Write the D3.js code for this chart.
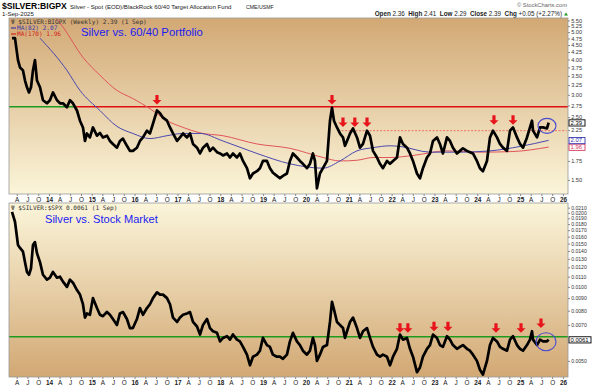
<!DOCTYPE html>
<html><head><meta charset="utf-8">
<script src="https://cdn.jsdelivr.net/npm/d3@7"></script>
<style>body{margin:0;background:#fff}svg{display:block;font-family:"Liberation Sans",Arial,sans-serif}</style>
</head><body>
<svg id="c" width="600" height="390"></svg>
<script>
// ---------- DATA (decimal years, weekly closes) ----------
const weeks = [2013.136,2013.206,2013.276,2013.323,2013.393,2013.440,2013.486,2013.533,2013.580,2013.626,
2013.673,2013.720,2013.790,2013.860,2013.953,2014.023,2014.093,2014.187,2014.257,2014.327,
2014.420,2014.490,2014.560,2014.654,2014.724,2014.794,2014.841,2014.887,2014.957,2015.027,
2015.121,2015.191,2015.261,2015.354,2015.424,2015.494,2015.588,2015.658,2015.728,2015.821,
2015.891,2015.961,2016.055,2016.125,2016.195,2016.288,2016.358,2016.428,2016.522,2016.592,
2016.662,2016.755,2016.825,2016.895,2016.989,2017.059,2017.129,2017.222,2017.292,2017.362,
2017.456,2017.526,2017.596,2017.689,2017.759,2017.829,2017.923,2017.993,2018.063,2018.156,
2018.226,2018.296,2018.389,2018.459,2018.530,2018.623,2018.693,2018.763,2018.856,2018.926,
2018.996,2019.090,2019.160,2019.230,2019.323,2019.393,2019.463,2019.557,2019.627,2019.697,
2019.790,2019.860,2019.930,2020.024,2020.094,2020.164,2020.211,2020.257,2020.327,2020.397,
2020.491,2020.561,2020.608,2020.654,2020.724,2020.794,2020.864,2020.911,2020.958,2021.028,
2021.098,2021.191,2021.261,2021.331,2021.425,2021.495,2021.565,2021.658,2021.728,2021.798,
2021.892,2021.962,2022.032,2022.125,2022.195,2022.265,2022.359,2022.429,2022.499,2022.592,
2022.662,2022.732,2022.826,2022.896,2022.966,2023.059,2023.129,2023.199,2023.293,2023.363,
2023.433,2023.526,2023.596,2023.666,2023.760,2023.830,2023.900,2023.993,2024.063,2024.133,
2024.227,2024.297,2024.367,2024.460,2024.530,2024.600,2024.694,2024.764,2024.834,2024.927,
2024.997,2025.067,2025.160,2025.230,2025.277,2025.301,2025.394,2025.464,2025.534,2025.627,
2025.666];

const silverBigpx = [4.76,4.76,3.98,3.75,3.66,3.37,3.19,3.06,3.19,3.66,
3.98,3.37,3.19,2.87,2.80,2.87,3.06,2.87,2.80,2.80,
2.71,2.87,2.80,2.64,2.43,2.30,2.06,2.19,2.12,2.30,
2.15,2.20,2.12,2.15,2.06,2.01,1.95,2.06,2.10,1.98,
1.90,1.90,1.95,2.06,2.12,2.24,2.19,2.37,2.64,2.58,
2.49,2.43,2.30,2.19,2.06,2.12,2.19,2.12,2.19,2.01,
1.95,1.86,1.95,2.01,1.90,1.95,1.88,1.86,1.83,1.86,
1.80,1.86,1.80,1.86,1.75,1.65,1.52,1.58,1.61,1.65,
1.75,1.75,1.65,1.59,1.55,1.52,1.55,1.58,1.75,1.86,
1.80,1.75,1.71,1.65,1.71,1.86,1.75,1.40,1.58,1.65,
1.75,2.43,2.70,2.43,2.30,2.19,2.12,1.98,2.06,2.19,
2.28,2.12,1.95,2.01,2.24,2.15,1.90,1.80,1.71,1.65,
1.75,1.71,1.75,1.80,2.12,2.01,1.95,1.86,1.75,1.58,
1.52,1.65,1.80,1.86,2.06,2.12,2.01,1.86,2.12,2.06,
1.95,1.86,1.90,1.94,1.90,1.88,1.86,1.75,1.65,1.61,
1.75,2.12,2.24,2.12,2.01,1.95,1.90,2.24,2.30,2.12,
2.01,1.95,2.12,2.30,2.43,2.24,2.12,2.30,2.30,2.28,
2.39];

const silverSpx = [.0202,.0184,.0148,.0144,.0139,.0126,.0115,.0112,.0119,.0148,
.0152,.0137,.0126,.0112,.0107,.0109,.0115,.0109,.0110,.0105,
.0100,.0107,.0104,.0097,.0093,.0085,.0075,.0078,.0077,.0090,
.0082,.0077,.0076,.0079,.0077,.0074,.0070,.0078,.0079,.0074,
.0068,.0068,.0074,.0082,.0077,.0082,.0085,.0090,.0095,.0093,
.0093,.0090,.0085,.0075,.0072,.0075,.0077,.0078,.0079,.0072,
.0069,.0064,.0070,.0074,.0068,.0066,.0065,.0060,.0062,.0063,
.0061,.0064,.0061,.0060,.0057,.0053,.0048,.0052,.0053,.0055,
.0062,.0058,.0057,.0053,.0052,.0052,.0051,.0053,.0060,.0065,
.0060,.0058,.0055,.0053,.0055,.0062,.0058,.0050,.0053,.0057,
.0058,.0072,.0087,.0081,.0072,.0070,.0068,.0062,.0066,.0072,
.0075,.0068,.0062,.0066,.0068,.0062,.0057,.0053,.0052,.0053,
.0052,.0048,.0052,.0056,.0064,.0061,.0062,.0056,.0052,.0045,
.0047,.0052,.0056,.0058,.0064,.0062,.0058,.0057,.0063,.0061,
.0058,.0056,.0057,.0058,.0056,.0055,.0053,.0050,.0046,.0044,
.0050,.0058,.0062,.0060,.0057,.0056,.0055,.0061,.0063,.0058,
.0056,.0055,.0058,.0061,.0066,.0061,.0058,.0061,.0060,.0060,
.0061];

const ma82Weeks  = [2013.79,2014.42,2014.724,2015.19,2015.588,2015.96,2016.358,2016.755,2017.13,2017.525,2018.06,2018.856,2019.627,2020.4,2020.794,2021.19,2021.565,2021.96,2022.195,2022.9,2023.6,2024.3,2025.0,2025.666];
const ma82Values = [4.76,3.66,3.11,2.64,2.32,2.19,2.10,2.15,2.19,2.19,2.06,1.86,1.71,1.65,1.75,1.90,1.95,1.98,1.97,1.88,1.88,1.90,1.97,2.07];
const ma170Weeks  = [2013.9,2014.14,2014.327,2014.794,2015.19,2015.588,2015.96,2016.358,2016.755,2017.13,2017.525,2018.06,2018.856,2019.627,2020.4,2020.794,2021.19,2021.565,2021.96,2022.5,2023.29,2024.063,2024.833,2025.666];
const ma170Values = [6.1,5.65,5.21,4.07,3.52,3.11,2.91,2.68,2.43,2.30,2.20,2.15,2.01,1.94,1.80,1.75,1.76,1.80,1.80,1.83,1.90,1.88,1.89,1.96];

const topTicks = [5.50,5.25,5.00,4.75,4.50,4.25,4.00,3.75,3.50,3.25,3.00,2.75,2.50,2.25,1.75,1.50];
const bottomTicks = [0.0210,0.0200,0.0190,0.0180,0.0170,0.0160,0.0150,0.0140,0.0130,0.0120,0.0110,0.0100,0.0090,0.0080,0.0070,0.0050];

const topArrowWeeks = [2016.522,2020.608,2020.864,2021.14,2021.425,2024.39,2024.834];
const topArrowTips  = [2.77,2.77,2.31,2.31,2.31,2.35,2.35];
const bottomArrowWeeks = [2022.195,2022.38,2022.99,2023.316,2024.437,2025.02,2025.487];
const bottomArrowTips  = [0.0065,0.0065,0.0066,0.0066,0.0065,0.0065,0.0068];

const resistanceLevel = 2.72, resistanceStart = 2014.6;
const dashedLevel = 2.24, dashedStart = 2020.75, dashedEnd = 2026.08;
const bottomSupport = 0.00627;
const topCircle = [2025.627, 2.33], bottomCircle = [2025.604, 0.00598];
const lastValues = {close:"2.39", ma82:"2.07", ma170:"1.96", spx:"0.0061"};
const lastNums = {close:2.39, ma82:2.07, ma170:1.96, spx:0.0061};

// ---------- helpers ----------
function dec(t){const y=Math.floor(t);const s=Date.UTC(y,0,1),e=Date.UTC(y+1,0,1);return new Date(s+(t-y)*(e-s));}

const svg = d3.select("#c");
const L = 9, R = 568;
const topP = {y0:18, y1:194}, botP = {y0:203, y1:377};

const x = d3.scaleUtc().domain([dec(2013.066), dec(2026.118)]).range([L, R]);
const yT = d3.scaleLog().domain([1.337, 5.61]).range([topP.y1, topP.y0]);
const yB = d3.scaleLog().domain([0.00430, 0.02193]).range([botP.y1, botP.y0]);

const defs = svg.append("defs");
const g1 = defs.append("linearGradient").attr("id","gTop").attr("x1",0).attr("y1",0).attr("x2",0).attr("y2",1);
g1.append("stop").attr("offset","0%").attr("stop-color","#d2a874");
g1.append("stop").attr("offset","100%").attr("stop-color","#fbf5da");
const g2 = defs.append("linearGradient").attr("id","gBot").attr("x1",0).attr("y1",0).attr("x2",0).attr("y2",1);
g2.append("stop").attr("offset","0%").attr("stop-color","#fbf5da");
g2.append("stop").attr("offset","100%").attr("stop-color","#d2a874");
defs.append("clipPath").attr("id","cTop").append("rect").attr("x",L).attr("y",topP.y0).attr("width",R-L).attr("height",topP.y1-topP.y0);
defs.append("clipPath").attr("id","cBot").append("rect").attr("x",L).attr("y",botP.y0).attr("width",R-L).attr("height",botP.y1-botP.y0);

svg.append("rect").attr("x",L).attr("y",topP.y0).attr("width",R-L).attr("height",topP.y1-topP.y0).attr("fill","url(#gTop)");
svg.append("rect").attr("x",L).attr("y",botP.y0).attr("width",R-L).attr("height",botP.y1-botP.y0).attr("fill","url(#gBot)");

// ---------- header ----------
svg.append("text").attr("x",2).attr("y",8.5).attr("font-size",8.6).attr("font-weight","bold").text("$SILVER:BIGPX");
svg.append("text").attr("x",70).attr("y",8.5).attr("font-size",6.1).attr("fill","#222").text("Silver - Spot (EOD)/BlackRock 60/40 Target Allocation Fund");
svg.append("text").attr("x",246).attr("y",8.5).attr("font-size",5.2).attr("fill","#222").text("CME/USMF");
svg.append("text").attr("x",2).attr("y",15.5).attr("font-size",6.1).attr("fill","#222").text("1-Sep-2025");
svg.append("text").attr("x",567).attr("y",6.5).attr("font-size",5.8).attr("fill","#666").attr("text-anchor","end").text("© StockCharts.com");
const ohlc = svg.append("text").attr("x",562).attr("y",16).attr("font-size",6.3).attr("text-anchor","end").attr("fill","#222");
[["Open ",1],["2.36  ",0],["High ",1],["2.41  ",0],["Low ",1],["2.29  ",0],["Close ",1],["2.39  ",0],["Chg ",1],["+0.05 (+2.27%)",0]]
 .forEach(([t,b])=>ohlc.append("tspan").attr("font-weight",b?"bold":"normal").attr("xml:space","preserve").text(t));
svg.append("path").attr("d","M564,15.5 l2,-3 l2,3 z").attr("fill","#1a9a1a");

// ---------- panel content ----------
const pt = svg.append("g").attr("clip-path","url(#cTop)");
const pb = svg.append("g").attr("clip-path","url(#cBot)");

// reference lines top
pt.append("line").attr("x1",L).attr("x2",x(dec(resistanceStart))).attr("y1",yT(resistanceLevel)).attr("y2",yT(resistanceLevel)).attr("stroke","#1e9a1e").attr("stroke-width",1.5);
pt.append("line").attr("x1",x(dec(resistanceStart))).attr("x2",R).attr("y1",yT(resistanceLevel)).attr("y2",yT(resistanceLevel)).attr("stroke","#e01010").attr("stroke-width",1.5);
pt.append("line").attr("x1",x(dec(dashedStart))).attr("x2",x(dec(dashedEnd))).attr("y1",yT(dashedLevel)).attr("y2",yT(dashedLevel)).attr("stroke","#f07060").attr("stroke-width",1).attr("stroke-dasharray","2,1.5");

// MAs
const lineT = d3.line().x(d=>x(dec(d[0]))).y(d=>yT(d[1])).curve(d3.curveMonotoneX);
pt.append("path").attr("d",lineT(d3.zip(ma170Weeks,ma170Values))).attr("fill","none").attr("stroke","#e0555a").attr("stroke-width",1);
pt.append("path").attr("d",lineT(d3.zip(ma82Weeks,ma82Values))).attr("fill","none").attr("stroke","#4a48b0").attr("stroke-width",1);

// price
const lt = d3.line().x((d,i)=>x(dec(weeks[i]))).y(d=>yT(d));
pt.append("path").attr("d",lt(silverBigpx)).attr("fill","none").attr("stroke","#000").attr("stroke-width",2.7).attr("stroke-linejoin","round");

// bottom reference
pb.append("line").attr("x1",L).attr("x2",R).attr("y1",yB(bottomSupport)).attr("y2",yB(bottomSupport)).attr("stroke","#1e9a1e").attr("stroke-width",1.5);
const lb = d3.line().x((d,i)=>x(dec(weeks[i]))).y(d=>yB(d));
pb.append("path").attr("d",lb(silverSpx)).attr("fill","none").attr("stroke","#000").attr("stroke-width",2.7).attr("stroke-linejoin","round");

// arrows
const arrow = "M0,0 L-4.5,-4.5 L-1.6,-4.5 L-1.6,-9.5 L1.6,-9.5 L1.6,-4.5 L4.5,-4.5 Z";
topArrowWeeks.forEach((w,i)=>pt.append("path").attr("d",arrow).attr("fill","#e8141c").attr("transform",`translate(${x(dec(w))},${yT(topArrowTips[i])})`));
bottomArrowWeeks.forEach((w,i)=>pb.append("path").attr("d",arrow).attr("fill","#e8141c").attr("transform",`translate(${x(dec(w))},${yB(bottomArrowTips[i])})`));

// circles
pt.append("ellipse").attr("cx",x(dec(topCircle[0]))).attr("cy",yT(topCircle[1])).attr("rx",9).attr("ry",7.5).attr("fill","none").attr("stroke","#4a4ad0").attr("stroke-width",1.1);
pb.append("ellipse").attr("cx",x(dec(bottomCircle[0]))).attr("cy",yB(bottomCircle[1])).attr("rx",10).attr("ry",9).attr("fill","none").attr("stroke","#4a4ad0").attr("stroke-width",1.1);

// legends & titles
const mono = "'DejaVu Sans Mono',monospace";
svg.append("text").attr("x",11).attr("y",24).attr("font-family",mono).attr("font-size",6.1).attr("fill","#333").text("Ψ $SILVER:BIGPX (Weekly) 2.39 (1 Sep)");
svg.append("line").attr("x1",11).attr("x2",16).attr("y1",28).attr("y2",28).attr("stroke","#3a38a8").attr("stroke-width",1.2);
svg.append("text").attr("x",17).attr("y",30).attr("font-family",mono).attr("font-size",6.1).attr("fill","#3a38a8").text("MA(82) 2.07");
svg.append("line").attr("x1",11).attr("x2",16).attr("y1",34).attr("y2",34).attr("stroke","#d42020").attr("stroke-width",1.2);
svg.append("text").attr("x",17).attr("y",36).attr("font-family",mono).attr("font-size",6.1).attr("fill","#d42020").text("MA(170) 1.96");
svg.append("text").attr("x",81).attr("y",36).attr("font-size",11.3).attr("fill","#1c1cf0").text("Silver vs. 60/40 Portfolio");
svg.append("text").attr("x",11).attr("y",209.5).attr("font-family",mono).attr("font-size",6.1).attr("fill","#333").text("Ψ $SILVER:$SPX 0.0061 (1 Sep)");
svg.append("text").attr("x",45).attr("y",223).attr("font-size",11.1).attr("fill","#1c1cf0").text("Silver vs. Stock Market");

// panel borders
[topP,botP].forEach(p=>svg.append("rect").attr("x",L).attr("y",p.y0).attr("width",R-L).attr("height",p.y1-p.y0).attr("fill","none").attr("stroke","#9a9a9a").attr("stroke-width",0.8));

// ---------- axes ----------
const monthTicks = [];
for(let yr=2013; yr<=2026; yr++){
  [0,3,6,9].forEach(m=>{const d=new Date(Date.UTC(yr,m,1)); if(d>=x.domain()[0] && d<=x.domain()[1]) monthTicks.push(d);});
}
const mfmt = d=>{const m=d.getUTCMonth(); return m===0 ? String(d.getUTCFullYear()).slice(2) : ({3:"A",6:"J",9:"O"})[m];};
function xAxis(yPos){
  const g = svg.append("g").attr("transform",`translate(0,${yPos})`)
    .call(d3.axisBottom(x).tickValues(monthTicks).tickFormat(mfmt).tickSize(2).tickPadding(1.5));
  g.select(".domain").remove();
  g.selectAll("line").attr("stroke","#888");
  g.selectAll("text").attr("font-size",6.4).attr("fill","#222").attr("font-family","'Liberation Sans',Arial,sans-serif")
    .attr("font-weight",d=>d.getUTCMonth()===0?"bold":"normal");
}
xAxis(topP.y1);
xAxis(botP.y1);

function yAxis(scale, ticks, fmt, fs){
  const g = svg.append("g").attr("transform",`translate(${R},0)`)
    .call(d3.axisRight(scale).tickValues(ticks).tickFormat(fmt).tickSize(2).tickPadding(1.2));
  g.select(".domain").remove();
  g.selectAll("line").attr("stroke","#888");
  g.selectAll("text").attr("font-size",fs).attr("fill","#333").attr("font-family","'Liberation Sans',Arial,sans-serif").attr("dy","0.3em");
}
yAxis(yT, topTicks, d3.format(".2f"), 5.6);
yAxis(yB, bottomTicks, d3.format(".4f"), 5.1);

// value boxes
function vbox(yPos, txt, color, w){
  svg.append("rect").attr("x",R+1).attr("y",yPos-2.9).attr("width",w).attr("height",6.2).attr("fill","#fff").attr("stroke",color).attr("stroke-width",0.9);
  svg.append("text").attr("x",R+2.5).attr("y",yPos+2.1).attr("font-size",5.9).attr("fill",color).text(txt);
}
vbox(yT(lastNums.ma170), lastValues.ma170, "#d43a5a", 16);
vbox(yT(lastNums.ma82), lastValues.ma82, "#3a38b0", 16);
vbox(yT(lastNums.close), lastValues.close, "#000", 16);
vbox(yB(lastNums.spx), lastValues.spx, "#000", 22);
</script>
</body></html>
